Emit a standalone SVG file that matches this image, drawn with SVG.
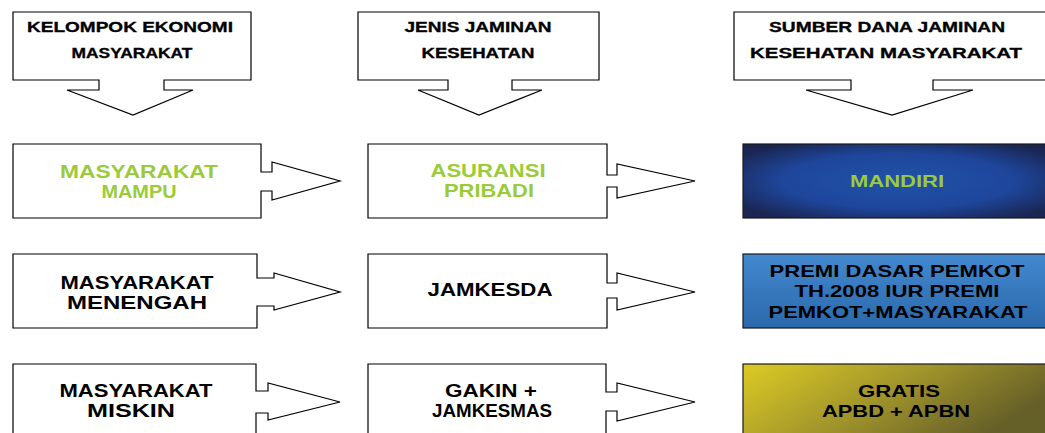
<svg xmlns="http://www.w3.org/2000/svg" width="1045" height="433" viewBox="0 0 1045 433">
<defs>
<style>
.c{fill:#ffffff;stroke:#000000;stroke-width:1.2;stroke-linejoin:miter}
.b{stroke:#1a1a1a;stroke-width:1.2}
text{font-family:"Liberation Sans",Arial,sans-serif;font-weight:bold;text-anchor:middle}
.h{font-size:14px;fill:#000;stroke:#000;stroke-width:0.3}
.t{font-size:19px;fill:#000}
.r{font-size:17px;fill:#000}
.r2{font-size:16.5px;fill:#000}
.g{fill:#9acb3a}
</style>
<radialGradient id="navy" cx="0.5" cy="0.5" r="0.62">
<stop offset="0" stop-color="#2052a8"/>
<stop offset="0.6" stop-color="#1e469b"/>
<stop offset="1" stop-color="#1a2552"/>
</radialGradient>
<linearGradient id="blue" x1="0" y1="0" x2="0" y2="1">
<stop offset="0" stop-color="#4389cf"/>
<stop offset="1" stop-color="#2b68ab"/>
</linearGradient>
<linearGradient id="gold" x1="0" y1="0" x2="1" y2="0.4">
<stop offset="0" stop-color="#dccb24"/>
<stop offset="0.5" stop-color="#a4972b"/>
<stop offset="1" stop-color="#655f28"/>
</linearGradient>
</defs>

<g id="connectors"></g>

<g id="header-kelompok">
<path class="c" d="M13,12 H251 V80 H164 V90 H193 L133,115 L67,90 H99 V80 H13 Z"/>
<text class="h" x="130" y="32" textLength="206" lengthAdjust="spacingAndGlyphs">KELOMPOK EKONOMI</text>
<text class="h" x="132" y="58" textLength="121" lengthAdjust="spacingAndGlyphs">MASYARAKAT</text>
</g>
<g id="header-jenis">
<path class="c" d="M358,12 H599 V80 H512 V90 H542 L479,115 L418,90 H448 V80 H358 Z"/>
<text class="h" x="478" y="32" textLength="147" lengthAdjust="spacingAndGlyphs">JENIS JAMINAN</text>
<text class="h" x="478" y="58" textLength="113" lengthAdjust="spacingAndGlyphs">KESEHATAN</text>
</g>
<g id="header-sumber">
<path class="c" d="M734,12 H1050 V80 H933 V90 H973 L892,115 L806,90 H851 V80 H734 Z"/>
<text class="h" x="887" y="32" textLength="236" lengthAdjust="spacingAndGlyphs">SUMBER DANA JAMINAN</text>
<text class="h" x="886" y="58" textLength="272" lengthAdjust="spacingAndGlyphs">KESEHATAN MASYARAKAT</text>
</g>

<g id="mampu">
<path class="c" d="M13,144 H261 V172 H272 V162 L340,181 L272,200 V191 H261 V218 H13 Z"/>
<text class="t g" x="139" y="178" textLength="158" lengthAdjust="spacingAndGlyphs">MASYARAKAT</text>
<text class="t g" x="139" y="198" textLength="75" lengthAdjust="spacingAndGlyphs">MAMPU</text>
</g>
<g id="asuransi">
<path class="c" d="M368,144 H607 V175 H617 V164 L695,181 L617,198 V187 H607 V218 H368 Z"/>
<text class="t g" x="488" y="177" textLength="115" lengthAdjust="spacingAndGlyphs">ASURANSI</text>
<text class="t g" x="489" y="197" textLength="90" lengthAdjust="spacingAndGlyphs">PRIBADI</text>
</g>
<g id="mandiri">
<rect class="b" x="743" y="144" width="310" height="74" fill="url(#navy)"/>
<text class="r2 g" x="897" y="187" textLength="94" lengthAdjust="spacingAndGlyphs">MANDIRI</text>
</g>

<g id="menengah">
<path class="c" d="M13,254 H257 V278 H274 V273 L340,292 L274,310 V306 H257 V328 H13 Z"/>
<text class="t" x="137" y="289" textLength="153" lengthAdjust="spacingAndGlyphs">MASYARAKAT</text>
<text class="t" x="137" y="309" textLength="140" lengthAdjust="spacingAndGlyphs">MENENGAH</text>
</g>
<g id="jamkesda">
<path class="c" d="M368,254 H607 V283 H617 V273 L695,292 L617,310 V298 H607 V328 H368 Z"/>
<text class="t" x="490" y="296" textLength="125" lengthAdjust="spacingAndGlyphs">JAMKESDA</text>
</g>
<g id="premi">
<rect class="b" x="743" y="254" width="310" height="74" fill="url(#blue)"/>
<text class="r" x="897" y="277" textLength="255" lengthAdjust="spacingAndGlyphs">PREMI DASAR PEMKOT</text>
<text class="r" x="897" y="297" textLength="205" lengthAdjust="spacingAndGlyphs">TH.2008 IUR PREMI</text>
<text class="r" x="898" y="318" textLength="259" lengthAdjust="spacingAndGlyphs">PEMKOT+MASYARAKAT</text>
</g>

<g id="miskin">
<path class="c" d="M13,364 H256 V391 H268 V383 L340,402 L268,420 V413 H256 V440 H13 Z"/>
<text class="t" x="136" y="397" textLength="153" lengthAdjust="spacingAndGlyphs">MASYARAKAT</text>
<text class="t" x="131" y="417" textLength="88" lengthAdjust="spacingAndGlyphs">MISKIN</text>
</g>
<g id="gakin">
<path class="c" d="M368,364 H606 V392 H617 V383 L695,402 L617,421 V411 H606 V440 H368 Z"/>
<text class="t" x="491" y="397" textLength="92" lengthAdjust="spacingAndGlyphs">GAKIN +</text>
<text class="t" x="492" y="417" textLength="120" lengthAdjust="spacingAndGlyphs">JAMKESMAS</text>
</g>
<g id="gratis">
<rect class="b" x="743" y="364" width="310" height="76" fill="url(#gold)"/>
<text class="r2" x="899" y="397" textLength="82" lengthAdjust="spacingAndGlyphs">GRATIS</text>
<text class="r2" x="896" y="417" textLength="148" lengthAdjust="spacingAndGlyphs">APBD + APBN</text>
</g>
</svg>
